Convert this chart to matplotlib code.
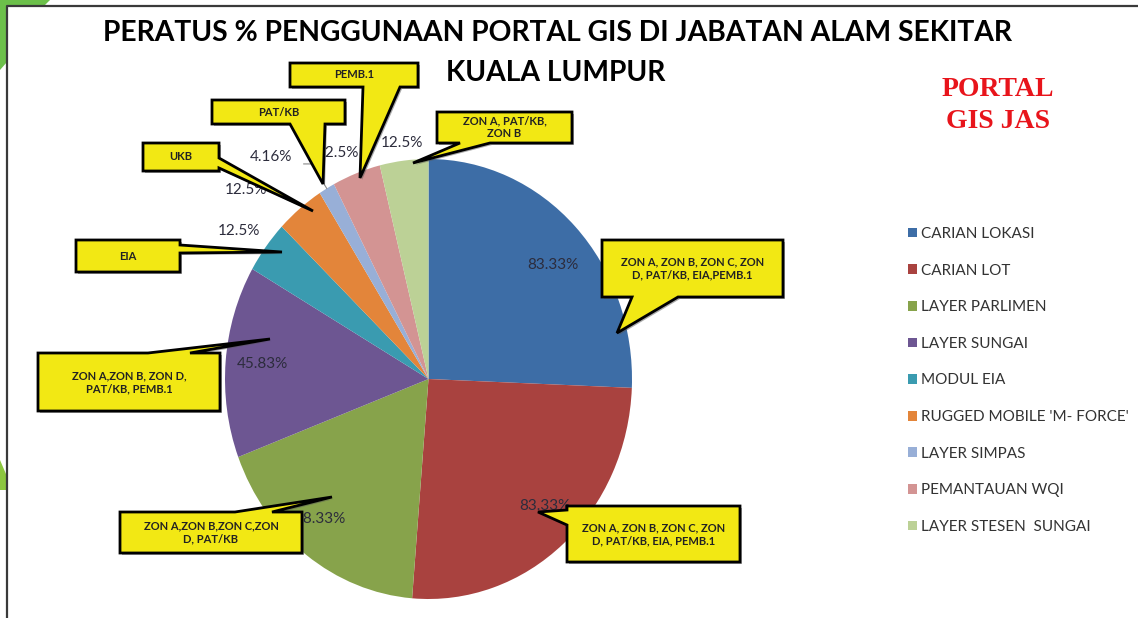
import numpy as np
import matplotlib
matplotlib.use('Agg')
import matplotlib.pyplot as plt
from matplotlib.patches import Polygon

# data
categories = ['CARIAN LOKASI', 'CARIAN LOT', 'LAYER PARLIMEN', 'LAYER SUNGAI', 'MODUL EIA',
              "RUGGED MOBILE 'M- FORCE'", 'LAYER SIMPAS', 'PEMANTAUAN WQI', 'LAYER STESEN  SUNGAI']
values = [83.33, 83.33, 58.33, 45.83, 12.5, 12.5, 4.16, 12.5, 12.5]
colors = ['#3d6da6', '#a9423f', '#87a34b', '#6d5692', '#3a9bb0',
          '#e3853a', '#98afd7', '#d39493', '#bcd196']

# percentage label layout: radius (fraction of pie radius) and angle nudge (deg, clockwise)
label_r = [0.80, 0.815, 0.83, 0.82, 1.15, 1.24, 1.27, 1.12, 1.08]
label_shift = [3.4, -3.2, 3.2, 0.0, -1.0, -7.0, -7.5, -2.7, 0.0]

# callouts (pixel coords, y down): text, box, tail (side, a, b, tip x, tip y)
note_text = ['PEMB.1', 'PAT/KB', 'UKB', 'EIA', 'ZON A, PAT/KB,\nZON B',
             'ZON A, ZON B, ZON C, ZON\nD, PAT/KB, EIA,PEMB.1',
             'ZON A,ZON B, ZON D,\nPAT/KB, PEMB.1',
             'ZON A,ZON B,ZON C,ZON\nD, PAT/KB',
             'ZON A, ZON B, ZON C, ZON\nD, PAT/KB, EIA, PEMB.1']
note_box = [(290, 63, 418, 87), (212, 100, 345, 124), (143, 143, 219, 171), (76, 240, 180, 272),
            (437, 112, 572, 143), (602, 240, 783, 297), (38, 353, 220, 411),
            (120, 512, 302, 553), (567, 506, 740, 562)]
note_tail = [('bottom', 363, 400, 360, 178), ('bottom', 290, 325, 323, 184),
             ('right', 158, 168, 313, 211), ('right', 245, 253, 282, 252),
             ('bottom', 460, 490, 413, 163), ('bottom', 632, 678, 617, 333),
             ('top', 148, 190, 270, 339), ('top', 235, 272, 332, 497),
             ('left', 510, 525, 538, 512)]

W, H = 1138, 618
fig = plt.figure(figsize=(W / 100, H / 100), dpi=100)
fig.patch.set_facecolor('white')

# pie (slightly elliptical, like the source)
cx, cy, rx, ry = 428.5, 379, 203.5, 220
ax = fig.add_axes([(cx - rx) / W, (H - cy - ry) / H, 2 * rx / W, 2 * ry / H])
wedges, _ = ax.pie(values, colors=colors, startangle=90, counterclock=False,
                   wedgeprops=dict(edgecolor='none', linewidth=0))
ax.set_aspect('auto')
ax.set_xlim(-1, 1)
ax.set_ylim(-1, 1)
ax.axis('off')

total = sum(values)
start = 0.0
for i, v in enumerate(values):
    span = v / total * 360
    mid = start + span / 2 + label_shift[i]
    t = np.deg2rad(90 - mid)
    x, y = label_r[i] * np.cos(t), label_r[i] * np.sin(t)
    ax.text(x, y, f'{v:g}%', ha='center', va='center', fontsize=11,
            family='Lato', color='#2c2c3c')
    if categories[i] == 'LAYER SIMPAS':
        te = np.deg2rad(90 - (start + span / 2))
        ax.plot([x + 0.16, x + 0.2, np.cos(te)], [y - 0.03, y - 0.03, np.sin(te)],
                color='#888888', lw=0.8, clip_on=False)
    start += span

# overlay in pixel coordinates
ov = fig.add_axes([0, 0, 1, 1])
ov.set_xlim(0, W)
ov.set_ylim(H, 0)
ov.axis('off')

# decorative green corners and frame
ov.add_patch(Polygon([(0, 0), (50, 0), (44, 6), (7, 6), (7, 62), (0, 70)],
                     closed=True, facecolor='#6cc04a', edgecolor='none'))
ov.add_patch(Polygon([(0, 460), (6, 474), (6, 490), (0, 490)],
                     closed=True, facecolor='#8cc63f', edgecolor='none'))
ov.plot([7, 7, W], [H, 6, 6], color='#3a3a3a', lw=1.6)


def callout_pts(box, tail):
    x0, y0, x1, y1 = box
    side, a, b, tx, ty = tail
    if side == 'bottom':
        return [(x0, y0), (x1, y0), (x1, y1), (b, y1), (tx, ty), (a, y1), (x0, y1)]
    if side == 'top':
        return [(x0, y0), (a, y0), (tx, ty), (b, y0), (x1, y0), (x1, y1), (x0, y1)]
    if side == 'right':
        return [(x0, y0), (x1, y0), (x1, a), (tx, ty), (x1, b), (x1, y1), (x0, y1)]
    return [(x0, y0), (x1, y0), (x1, y1), (x0, y1), (x0, b), (tx, ty), (x0, a)]


for txt, box, tail in zip(note_text, note_box, note_tail):
    pts = callout_pts(box, tail)
    shadow = [(px + 2, py + 2) for px, py in pts]
    ov.add_patch(Polygon(shadow, closed=True, facecolor='#555555', edgecolor='none', alpha=0.5))
    ov.add_patch(Polygon(pts, closed=True, facecolor='#f2e814', edgecolor='black',
                         lw=2.0, joinstyle='miter'))
    ov.text((box[0] + box[2]) / 2, (box[1] + box[3]) / 2, txt, ha='center', va='center',
            fontsize=8, fontweight='bold', family='Lato', color='#222222',
            linespacing=1.2)

# titles
ov.text(558, 33, 'PERATUS % PENGGUNAAN PORTAL GIS DI JABATAN ALAM SEKITAR',
        ha='center', va='center', fontsize=20.3, fontweight='bold', family='Lato', color='black')
ov.text(556, 73, 'KUALA LUMPUR', ha='center', va='center', fontsize=20.3,
        fontweight='bold', family='Lato', color='black')
ov.text(998, 90, 'PORTAL', ha='center', va='center', fontsize=20, fontweight='bold',
        family='Liberation Serif', color='#e8141b')
ov.text(998, 121, 'GIS JAS', ha='center', va='center', fontsize=20, fontweight='bold',
        family='Liberation Serif', color='#e8141b')

# legend
leg = fig.legend(wedges, categories, loc='upper left', bbox_to_anchor=(908 / W, 1 - 227 / H),
                 frameon=False, borderpad=0, borderaxespad=0, handlelength=0.6,
                 handleheight=0.6, handletextpad=0.25, labelspacing=1.48,
                 prop=dict(family='Lato', size=11))
for t in leg.get_texts():
    t.set_color('#333333')

fig.savefig('out.png', dpi=100)
